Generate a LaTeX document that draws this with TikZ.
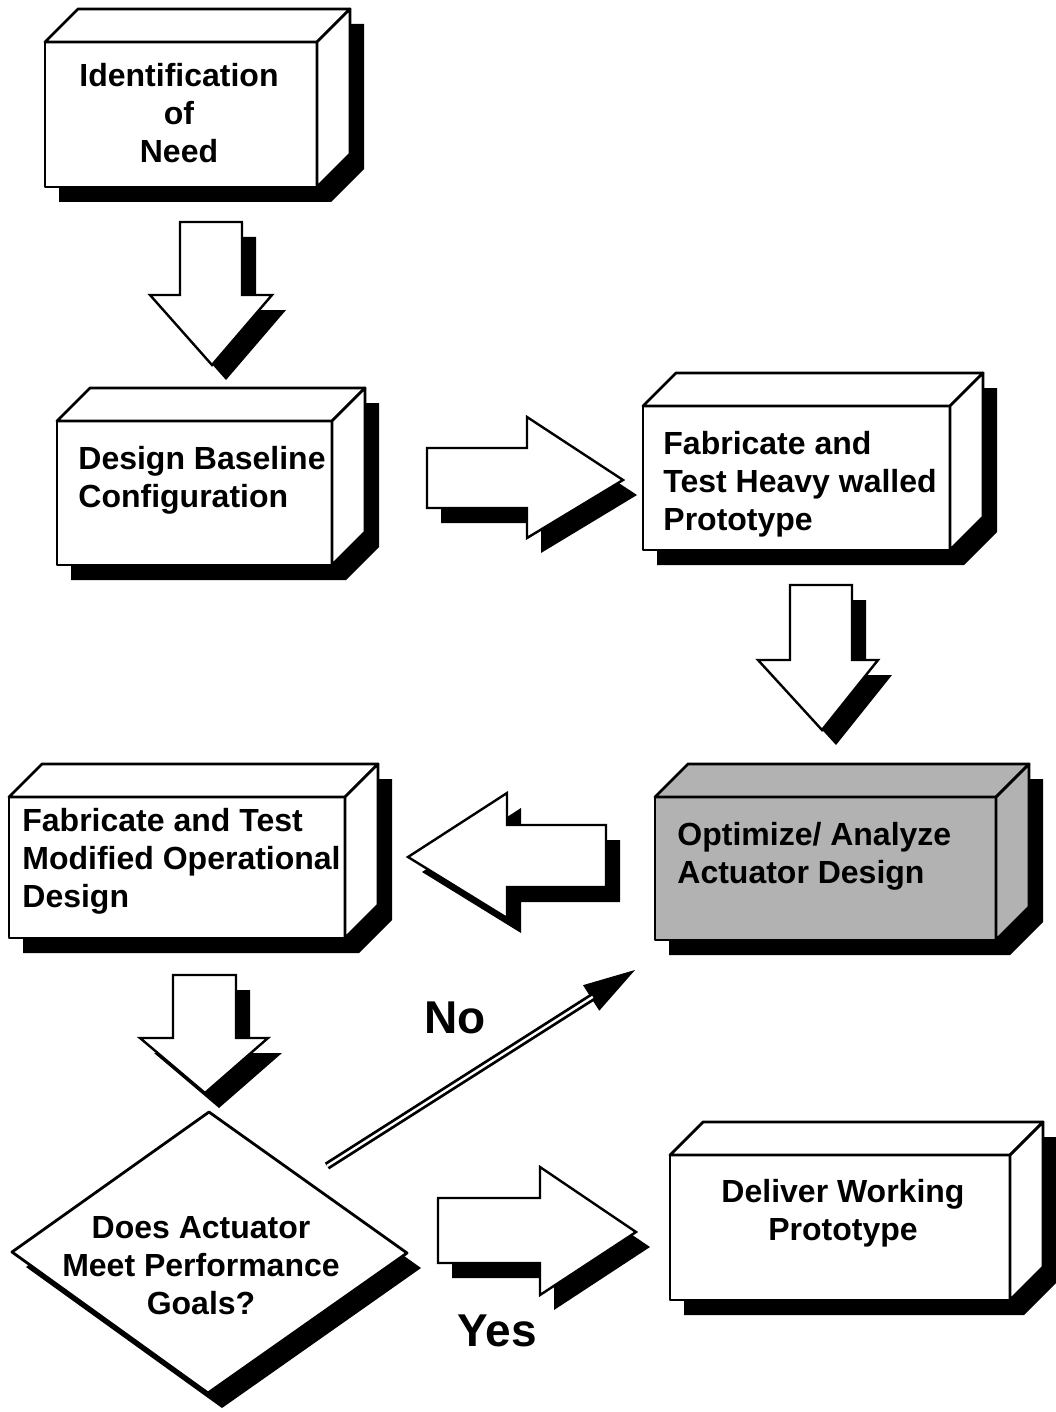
\documentclass[tikz,border=0pt]{standalone}
\usepackage{fontspec}
\setmainfont{Liberation Sans}
\usetikzlibrary{arrows.meta}

\tikzset{
  slabface/.style={draw=black, line width=1.4pt, line join=round},
  arrowface/.style={draw=black, fill=white, line width=1.2pt},
  blackoffset/.style={fill=black, shift={(14,15)}},
  boxtext/.style={font=\bfseries\fontsize{16}{19}\selectfont, inner sep=0pt},
  bigword/.style={font=\bfseries\fontsize{23}{27}\selectfont, inner sep=0pt},
}

% 3d box with drop shadow: [fill] x1 y1 x2 y2 of the front face
\newcommand{\slab}[5][white]{%
  \fill[blackoffset] (#2,#3) -- (#2+33,#3-33) -- (#4+33,#3-33) -- (#4+33,#5-33) -- (#4,#5) -- (#2,#5) -- cycle;
  \draw[slabface, fill=#1] (#2,#3) rectangle (#4,#5);
  \draw[slabface, fill=#1] (#2,#3) -- (#2+33,#3-33) -- (#4+33,#3-33) -- (#4,#3) -- cycle;
  \draw[slabface, fill=#1] (#4,#3) -- (#4+33,#3-33) -- (#4+33,#5-33) -- (#4,#5) -- cycle;
}

% fat arrow down: shaft l r, top, head base, head l r, tip x y
\newcommand{\fatdown}[8]{%
  \fill[blackoffset] (#1,#3) -- (#2,#3) -- (#2,#4) -- (#6,#4) -- (#7,#8) -- (#5,#4) -- (#1,#4) -- cycle;
  \filldraw[arrowface] (#1,#3) -- (#2,#3) -- (#2,#4) -- (#6,#4) -- (#7,#8) -- (#5,#4) -- (#1,#4) -- cycle;
}

% fat arrow sideways: tail x, shaft top bottom, head base x, head top bottom, tip x y
\newcommand{\fathoriz}[8]{%
  \fill[blackoffset] (#1,#2) -- (#4,#2) -- (#4,#5) -- (#7,#8) -- (#4,#6) -- (#4,#3) -- (#1,#3) -- cycle;
  \filldraw[arrowface] (#1,#2) -- (#4,#2) -- (#4,#5) -- (#7,#8) -- (#4,#6) -- (#4,#3) -- (#1,#3) -- cycle;
}

\begin{document}
\begin{tikzpicture}[x=0.5pt, y=-0.5pt]
        \useasboundingbox (0,0) rectangle (1055,1412);

        %boxes
        \slab{45}{42}{317}{187}
        \slab{57}{421}{332}{565}
        \slab{643}{406}{950}{550}
        \slab{9}{797}{345}{938}
        \slab[black!30]{655}{797}{996}{940}
        \slab{670}{1155}{1010}{1300}

        %decision
        \fill[blackoffset] (209,1112) -- (407,1253) -- (208,1393) -- (12,1252) -- cycle;
        \draw[slabface, fill=white] (209,1112) -- (407,1253) -- (208,1393) -- (12,1252) -- cycle;

        %fat arrows
        \fatdown{180}{242}{222}{295}{150}{272}{212}{365}
        \fatdown{790}{852}{585}{660}{758}{878}{822}{730}
        \fatdown{173}{236}{975}{1038}{140}{268}{205}{1093}
        \fathoriz{427}{448}{508}{527}{417}{538}{623}{480}
        \fathoriz{606}{825}{887}{507}{793}{918}{408}{857}
        \fathoriz{438}{1198}{1263}{540}{1167}{1295}{636}{1232}

        %texts
        \node[boxtext, align=center] (need) at (179,113) {Identification\\of\\Need};
        \node[boxtext, align=left, anchor=west] (baseline) at (78,480) {Design Baseline\\Configuration};
        \node[boxtext, align=left, anchor=west] (heavy) at (663,484) {Fabricate and\\Test Heavy walled\\Prototype};
        \node[boxtext, align=left, anchor=west] (modified) at (22,861) {Fabricate and Test\\Modified Operational\\Design};
        \node[boxtext, align=left, anchor=west] (optimize) at (677,856) {Optimize/ Analyze\\Actuator Design};
        \node[boxtext, align=center] (deliver) at (843,1213) {Deliver Working\\Prototype};
        \node[boxtext, align=center] (goals) at (201,1266) {Does Actuator\\Meet Performance\\Goals?};
        \node[bigword] (no) at (455,1018) {No};
        \node[bigword] (yes) at (497,1331) {Yes};

        %no arrow
        \coordinate (notail) at (327,1166);
        \coordinate (nohead) at (635,970);
        \draw[line width=0.5pt, -{Triangle[length=26pt,width=15pt]}] (notail) -- (nohead);
        \draw[double, double distance=1.2pt, line width=1.4pt, shorten >=25pt] (notail) -- (nohead);
    \end{tikzpicture}
\end{document}
